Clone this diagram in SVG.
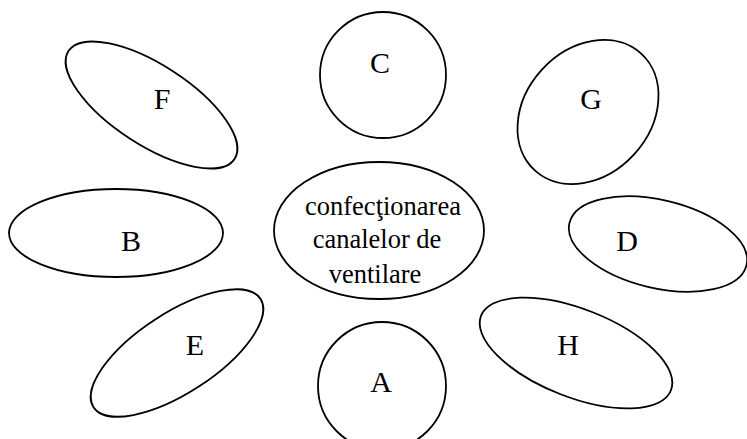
<svg xmlns="http://www.w3.org/2000/svg" width="747" height="439" viewBox="0 0 747 439">
<style>
.n{fill:#fff;stroke:#000;stroke-width:1.8}
text{font-family:'Liberation Serif','Times New Roman',Times,serif;fill:#000;text-anchor:middle}
.l{font-size:30px}
.c{font-size:26.5px}
</style>
<rect width="747" height="439" fill="#fff"/>
<g id="connectors"/>
<g id="center">
<ellipse class="n" cx="379" cy="230.5" rx="105" ry="68.5"/>
<text class="c" x="383" y="215" font-family="Liberation Serif">confecţionarea</text>
<text class="c" x="377" y="248" font-family="Liberation Serif">canalelor de</text>
<text class="c" x="375" y="283" font-family="Liberation Serif">ventilare</text>
</g>
<g id="C">
<circle class="n" cx="383" cy="75" r="63"/>
<text class="l" x="380" y="73" font-family="Liberation Serif">C</text>
</g>
<g id="A">
<circle class="n" cx="382" cy="386" r="64"/>
<text class="l" x="381" y="392" font-family="Liberation Serif">A</text>
</g>
<g id="F">
<ellipse class="n" cx="151.5" cy="105" rx="99" ry="40" transform="rotate(33 151.5 105)"/>
<text class="l" x="162" y="109" font-family="Liberation Serif">F</text>
</g>
<g id="G">
<ellipse class="n" cx="588" cy="112" rx="79" ry="62.6" transform="rotate(-47.7 588 112)"/>
<text class="l" x="591" y="109" font-family="Liberation Serif">G</text>
</g>
<g id="B">
<ellipse class="n" cx="116" cy="233" rx="107" ry="44"/>
<text class="l" x="131" y="251" font-family="Liberation Serif">B</text>
</g>
<g id="D">
<ellipse class="n" cx="658" cy="244" rx="91" ry="44" transform="rotate(13.4 658 244)"/>
<text class="l" x="627" y="251" font-family="Liberation Serif">D</text>
</g>
<g id="E">
<ellipse class="n" cx="177" cy="353" rx="99.5" ry="40" transform="rotate(-33 177 353)"/>
<text class="l" x="195" y="355" font-family="Liberation Serif">E</text>
</g>
<g id="H">
<ellipse class="n" cx="576" cy="353" rx="102" ry="44" transform="rotate(21.4 576 353)"/>
<text class="l" x="568" y="355" font-family="Liberation Serif">H</text>
</g>
</svg>
